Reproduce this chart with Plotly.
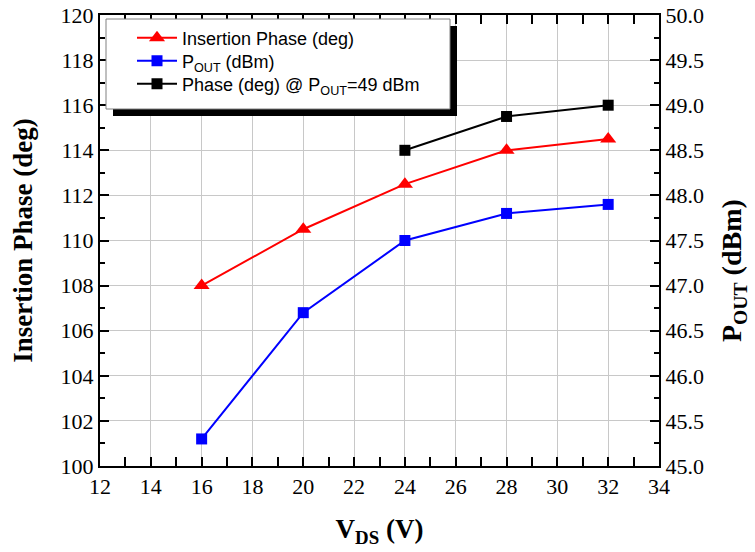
import plotly.graph_objects as go

vds = [16, 20, 24, 28, 32]
insertion_phase = [108.0, 110.5, 112.5, 114.0, 114.5]
pout = [45.3, 46.7, 47.5, 47.8, 47.9]
vds_49 = [24, 28, 32]
phase_49 = [114.0, 115.5, 116.0]

serif = "Liberation Serif"
sans = "Liberation Sans"

fig = go.Figure()
fig.add_trace(go.Scatter(x=vds, y=insertion_phase, mode="lines+markers",
                         name="Insertion Phase (deg)", legend="legend",
                         line=dict(color="#ff0000", width=2),
                         marker=dict(symbol="triangle-up", size=14, color="#ff0000")))
fig.add_trace(go.Scatter(x=vds, y=pout, mode="lines+markers", yaxis="y2",
                         name="P<sub>OUT</sub> (dBm)", legend="legend2",
                         line=dict(color="#0000ff", width=2),
                         marker=dict(symbol="square", size=11, color="#0000ff")))
fig.add_trace(go.Scatter(x=vds_49, y=phase_49, mode="lines+markers",
                         name="Phase (deg) @ P<sub>OUT</sub>=49 dBm", legend="legend3",
                         line=dict(color="#000000", width=2),
                         marker=dict(symbol="square", size=11, color="#000000")))

W, H = 755, 552
L, T = 100, 15
pw, ph = 559, 451
R = W - L - pw
B = H - T - ph

def px(sx):
    return (sx - L) / pw

def py(sy):
    return 1 - (sy - T) / ph

# legend shadow and box
fig.add_shape(type="rect", xref="paper", yref="paper",
              x0=px(113), x1=px(457), y0=py(116), y1=py(26),
              fillcolor="black", line=dict(width=0), layer="above")
fig.add_shape(type="rect", xref="paper", yref="paper",
              x0=px(106), x1=px(450), y0=py(109), y1=py(19),
              fillcolor="white", line=dict(color="#808080", width=1), layer="above")

axis_common = dict(showline=True, linecolor="black", linewidth=2,
                   ticks="inside", ticklen=9, tickwidth=2, tickcolor="black",
                   tickfont=dict(family=serif, size=22, color="black"),
                   ticklabeloverflow="allow",
                   zeroline=False, automargin=False)

def leg(sy):
    return dict(x=px(132), y=py(sy), xanchor="left", yanchor="middle",
                bgcolor="rgba(0,0,0,0)", borderwidth=0,
                font=dict(family=sans, size=18, color="black"), itemwidth=40)

fig.update_layout(
    width=W, height=H,
    margin=dict(l=L, r=R, t=T, b=B),
    paper_bgcolor="white", plot_bgcolor="white",
    font=dict(family=serif, color="black"),
    showlegend=True,
    legend=leg(38), legend2=leg(61), legend3=leg(84),
    xaxis=dict(range=[12, 34], dtick=2, tick0=12, mirror="allticks",
               showgrid=True, gridcolor="#c8c8c8", gridwidth=1,
               minor=dict(dtick=1, ticks="inside", ticklen=5, tickwidth=2,
                          tickcolor="black", showgrid=False),
               title=dict(text="<b>V<sub>DS</sub> (V)</b>",
                          font=dict(family=serif, size=27, color="black"),
                          standoff=21),
               **axis_common),
    yaxis=dict(range=[100, 120], dtick=2, tick0=100,
               showgrid=True, gridcolor="#c8c8c8", gridwidth=1,
               minor=dict(dtick=1, ticks="inside", ticklen=5, tickwidth=2,
                          tickcolor="black", showgrid=False),
               title=dict(text="<b>Insertion Phase (deg)</b>",
                          font=dict(family=serif, size=27, color="black"),
                          standoff=20),
               **axis_common),
    yaxis2=dict(range=[45, 50], dtick=0.5, tick0=45, tickformat=".1f",
                overlaying="y", side="right", showgrid=False,
                minor=dict(dtick=0.25, ticks="inside", ticklen=5, tickwidth=2,
                           tickcolor="black", showgrid=False),
                **axis_common),
    annotations=[dict(text="<b>P<sub>OUT</sub> (dBm)</b>", xref="paper", yref="paper",
                      x=px(733), y=py(271), xanchor="center", yanchor="middle",
                      textangle=-90, showarrow=False,
                      font=dict(family=serif, size=28, color="black"))],
)

fig.write_html("out.html", config={"displayModeBar": False},
               post_script="document.body.style.margin='0';")
